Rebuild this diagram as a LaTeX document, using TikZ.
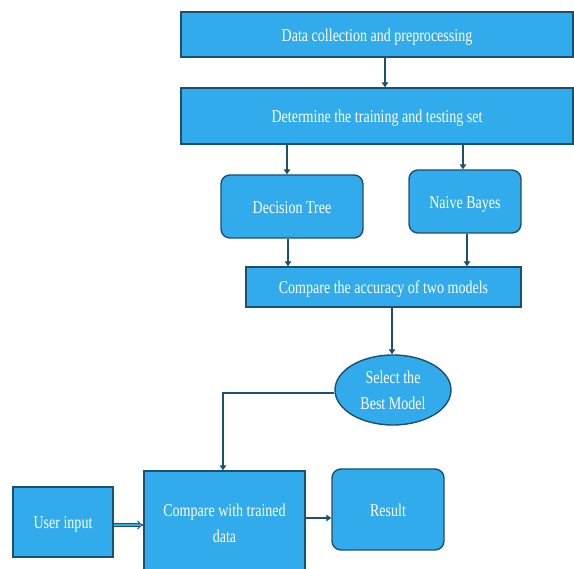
\documentclass[tikz,border=0pt]{standalone}
\usepackage{fontspec}
\setmainfont{Liberation Serif}[FakeStretch=0.78]
\usetikzlibrary{arrows.meta,shapes.geometric}
\definecolor{boxfill}{HTML}{31ABEB}
\definecolor{boxline}{HTML}{1D4F6E}
\tikzset{
  base/.style={draw=boxline, line width=1.4pt, fill=boxfill, text=white,
    font=\fontsize{18}{26}\selectfont, align=center, inner sep=2pt},
  lowtext/.style={text height=16pt, text depth=2pt},
  rbox/.style={base, rectangle, lowtext},
  rrbox/.style={base, rectangle, rounded corners=9pt, lowtext},
  ellbox/.style={base, ellipse, inner sep=0pt},
  arr/.style={draw=boxline, line width=2.6pt, -{Triangle[length=5pt,width=6.5pt]}},
  dblarr/.style={draw=boxline, line width=1pt, double=boxfill, double distance=2pt, -{Implies[length=4pt]}},
}
\begin{document}
\begin{tikzpicture}[x=1pt,y=-1pt]
\useasboundingbox (0,0) rectangle (574,569);
\clip (0,0) rectangle (574,569);
\node[rbox, minimum width=392pt, minimum height=45pt] (b1) at (377,34.5) {Data collection and preprocessing};
\node[rbox, minimum width=392pt, minimum height=56pt] (b2) at (377,116) {Determine the training and testing set};
\node[rrbox, minimum width=142pt, minimum height=63pt] (dt) at (292,206.5) {Decision Tree};
\node[rrbox, minimum width=112pt, minimum height=63pt] (nb) at (465,201.5) {Naive Bayes};
\node[rbox, minimum width=275pt, minimum height=40pt] (acc) at (383.5,287) {Compare the accuracy of two models};
\node[ellbox, minimum width=116pt, minimum height=70pt] (ell) at (393,390) {Select the\\Best Model};
\node[rbox, minimum width=100pt, minimum height=70pt] (user) at (63,522) {User input};
\node[base, rectangle, minimum width=161pt, minimum height=104pt] (cmp) at (224.5,523) {};
\node[text=white, font=\fontsize{18}{26}\selectfont, align=center] (cmptext) at (224.5,523) {Compare with trained\\data};
\node[rrbox, minimum width=112pt, minimum height=81pt] (res) at (388,509.5) {Result};
% connectors
\draw[arr] (b1.south -| 385,0) -- (b2.north -| 385,0);
\draw[arr] (b2.south -| 287,0) -- (dt.north -| 287,0);
\draw[arr] (b2.south -| 463,0) -- (nb.north -| 463,0);
\draw[arr] (dt.south -| 288,0) -- (acc.north -| 288,0);
\draw[arr] (nb.south -| 467,0) -- (acc.north -| 467,0);
\draw[arr] (acc.south -| 392,0) -- (ell.north -| 392,0);
\draw[arr] (ell.west |- 0,393) -| (cmp.north -| 223,0);
\draw[dblarr] (user.east |- 0,525) -- (cmp.west |- 0,525);
\draw[arr] (cmp.east |- 0,518) -- (res.west |- 0,518);
\end{tikzpicture}
\end{document}
